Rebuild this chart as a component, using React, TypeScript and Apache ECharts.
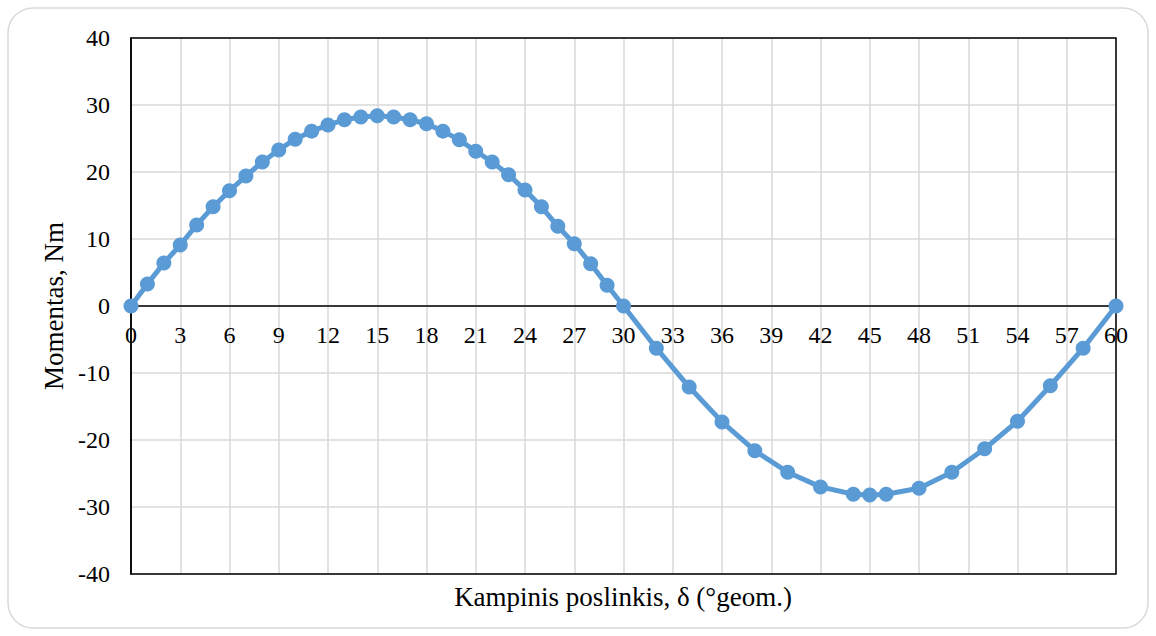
import React, { useEffect, useRef } from "react";
import * as echarts from "echarts";

const xValues = [0,1,2,3,4,5,6,7,8,9,10,11,12,13,14,15,16,17,18,19,20,21,22,23,24,25,26,27,28,29,30,32,34,36,38,40,42,44,45,46,48,50,52,54,56,58,60];
const yValues = [0,3.3,6.4,9.1,12.1,14.8,17.2,19.4,21.5,23.3,24.9,26.1,27.0,27.8,28.2,28.4,28.2,27.8,27.2,26.1,24.8,23.1,21.5,19.6,17.3,14.8,11.9,9.3,6.3,3.1,0,-6.3,-12.1,-17.3,-21.6,-24.8,-27.0,-28.1,-28.2,-28.1,-27.2,-24.8,-21.3,-17.2,-11.9,-6.3,0];

const xTitle = "Kampinis poslinkis, δ (°geom.)";
const yTitle = "Momentas, Nm";

const FONT = "'Liberation Serif', 'Times New Roman', serif";

export default function App() {
  const ref = useRef<HTMLDivElement>(null);
  useEffect(() => {
    if (!ref.current) return;
    const chart = echarts.init(ref.current, null, { renderer: "svg" });
    const data = xValues.map((x, i) => [x, yValues[i]]);
    chart.setOption({
      animation: false,
      backgroundColor: "#fff",
      textStyle: { fontFamily: FONT },
      graphic: [
        {
          type: "rect",
          z: -10,
          silent: true,
          shape: { x: 8, y: 8, width: 1140, height: 620, r: 25 },
          style: { fill: "#fff", stroke: "#d9d9d9", lineWidth: 1.5 },
        },
        {
          type: "rect",
          z: 1,
          silent: true,
          shape: { x: 131, y: 38, width: 985, height: 536 },
          style: { fill: "none", stroke: "#000", lineWidth: 1.5 },
        },
        {
          type: "text",
          x: 623,
          y: 597,
          style: {
            text: xTitle,
            fontFamily: FONT,
            fontSize: 27,
            fill: "#000",
            align: "center",
            verticalAlign: "middle",
          },
        },
      ],
      grid: {
        left: 131,
        top: 38,
        right: 40,
        bottom: 62,
        show: false,
      },
      xAxis: {
        type: "value",
        min: 0,
        max: 60,
        interval: 3,
        axisLine: { show: true, onZero: true, lineStyle: { color: "#000", width: 1.5 } },
        axisTick: { show: false },
        axisLabel: { color: "#000", fontSize: 24, fontFamily: FONT, margin: -251 },
        splitLine: { show: true, lineStyle: { color: "#d9d9d9", width: 1.5 } },
      },
      yAxis: {
        type: "value",
        min: -40,
        max: 40,
        interval: 10,
        name: yTitle,
        nameLocation: "middle",
        nameGap: 60,
        nameTextStyle: { color: "#000", fontSize: 27, fontFamily: FONT },
        axisLine: { show: true, lineStyle: { color: "#000", width: 1.5 } },
        axisTick: { show: false },
        axisLabel: { color: "#000", fontSize: 24, fontFamily: FONT, margin: 21 },
        splitLine: { show: true, lineStyle: { color: "#d9d9d9", width: 1.5 } },
      },
      series: [
        {
          type: "line",
          data,
          z: 5,
          symbol: "circle",
          symbolSize: 15,
          showSymbol: true,
          lineStyle: { color: "#5b9bd5", width: 5 },
          itemStyle: { color: "#5b9bd5" },
        },
      ],
    });
    return () => chart.dispose();
  }, []);
  return (
    <div
      ref={ref}
      style={{ position: "absolute", left: 0, top: 0, width: 1156, height: 636 }}
    />
  );
}
